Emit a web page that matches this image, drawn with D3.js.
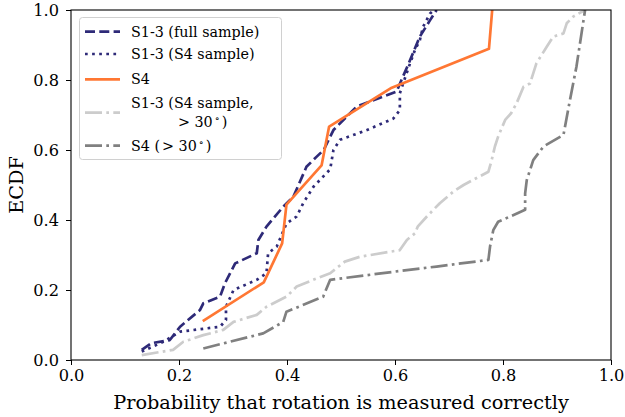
<!DOCTYPE html>
<html><head><meta charset="utf-8">
<script src="https://cdn.jsdelivr.net/npm/d3@7"></script>
<style>body{margin:0;background:#fff}svg{display:block}</style>
</head><body>
<svg id="c" width="625" height="417"></svg>
<script>
const xTicks = [0.0, 0.2, 0.4, 0.6, 0.8, 1.0];
const yTicks = [0.0, 0.2, 0.4, 0.6, 0.8, 1.0];

const fullX = [0.131,0.149,0.183,0.202,0.239,0.245,0.276,0.285,0.304,0.344,0.347,0.362,0.393,0.412,0.436,0.455,0.468,0.486,0.529,0.603,0.612,0.628,0.646,0.665,0.677];
const fullY = [0.029,0.048,0.057,0.095,0.143,0.162,0.181,0.219,0.276,0.305,0.343,0.381,0.438,0.467,0.552,0.581,0.600,0.657,0.724,0.767,0.800,0.857,0.924,0.971,1.000];

const s4sX = [0.131,0.171,0.202,0.276,0.287,0.287,0.301,0.344,0.362,0.365,0.381,0.399,0.418,0.430,0.449,0.480,0.486,0.498,0.548,0.597,0.609,0.609,0.615,0.628,0.637,0.646,0.652,0.665,0.672];
const s4sY = [0.024,0.052,0.081,0.095,0.114,0.152,0.200,0.229,0.248,0.305,0.324,0.390,0.410,0.448,0.495,0.545,0.600,0.629,0.657,0.690,0.714,0.762,0.790,0.848,0.886,0.914,0.952,0.990,1.000];

const s4X = [0.244,0.357,0.391,0.399,0.464,0.478,0.594,0.774,0.780];
const s4Y = [0.111,0.222,0.333,0.444,0.556,0.667,0.778,0.889,1.000];

const s4s30X = [0.131,0.189,0.208,0.245,0.282,0.301,0.344,0.362,0.399,0.418,0.455,0.480,0.507,0.535,0.609,0.622,0.637,0.642,0.659,0.671,0.683,0.708,0.727,0.773,0.779,0.785,0.791,0.804,0.815,0.825,0.838,0.850,0.862,0.881,0.893,0.912,0.918,0.930,0.952];
const s4s30Y = [0.014,0.029,0.052,0.071,0.086,0.109,0.129,0.152,0.181,0.210,0.233,0.248,0.281,0.295,0.314,0.343,0.362,0.381,0.410,0.429,0.448,0.481,0.500,0.538,0.571,0.610,0.638,0.686,0.705,0.733,0.781,0.790,0.848,0.895,0.924,0.933,0.962,0.981,1.000];

const s430X = [0.245,0.356,0.393,0.399,0.467,0.480,0.597,0.677,0.773,0.776,0.782,0.791,0.841,0.841,0.844,0.856,0.875,0.912,0.924,0.936,0.952];
const s430Y = [0.033,0.076,0.109,0.138,0.181,0.229,0.252,0.267,0.286,0.324,0.371,0.395,0.429,0.476,0.514,0.571,0.610,0.643,0.743,0.838,1.000];

const seriesNames = ["S1-3 (full sample)", "S1-3 (S4 sample)", "S4", "S1-3 (S4 sample,", "S4 ("];

const W = 625, H = 417;
const m = {l:71, r:14, t:10, b:57};
const svg = d3.select("#c");
const x = d3.scaleLinear().domain([0,1]).range([m.l, W-m.r]);
const y = d3.scaleLinear().domain([0,1]).range([H-m.b, m.t]);
const FONT = "DejaVu Serif";

const series = [
  {xs: fullX, ys: fullY, color:"#2e2a78", w:2.7, dash:"10,4.3"},
  {xs: s4sX, ys: s4sY, color:"#2e2a78", w:2.7, dash:"2.7,4.4"},
  {xs: s4X, ys: s4Y, color:"#ff7733", w:2.7, dash:null},
  {xs: s4s30X, ys: s4s30Y, color:"#cccccc", w:2.7, dash:"17,4.3,2.7,4.3"},
  {xs: s430X, ys: s430Y, color:"#808080", w:2.7, dash:"17,4.3,2.7,4.3"}
];

svg.append("clipPath").attr("id","pc").append("rect")
  .attr("x", m.l).attr("y", m.t).attr("width", W-m.l-m.r).attr("height", H-m.t-m.b);

const line = d3.line().x(d=>x(d[0])).y(d=>y(d[1]));
const g = svg.append("g").attr("clip-path","url(#pc)");
series.forEach(s => {
  const pts = s.xs.map((v,i)=>[v, s.ys[i]]);
  g.append("path").attr("d", line(pts)).attr("fill","none")
    .attr("stroke", s.color).attr("stroke-width", s.w)
    .attr("stroke-dasharray", s.dash).attr("stroke-linejoin","round");
});

// axes
const xa = svg.append("g").attr("transform",`translate(0,${H-m.b})`)
  .call(d3.axisBottom(x).tickValues(xTicks).tickFormat(d3.format(".1f")).tickSizeOuter(0).tickSize(5).tickPadding(4));
const ya = svg.append("g").attr("transform",`translate(${m.l},0)`)
  .call(d3.axisLeft(y).tickValues(yTicks).tickFormat(d3.format(".1f")).tickSizeOuter(0).tickSize(5).tickPadding(7));
[xa, ya].forEach(a => {
  a.select(".domain").remove();
  a.selectAll("text").attr("font-family", FONT).attr("font-size", 16.2).attr("fill","#000");
  a.selectAll("line").attr("stroke","#000").attr("stroke-width",1);
});
svg.append("rect").attr("x", m.l).attr("y", m.t).attr("width", W-m.l-m.r).attr("height", H-m.t-m.b)
  .attr("fill","none").attr("stroke","#000").attr("stroke-width",1.1);

svg.append("text").attr("x", (m.l + W - m.r)/2).attr("y", 409)
  .attr("text-anchor","middle").attr("font-family",FONT).attr("font-size",19.3)
  .text("Probability that rotation is measured correctly");
svg.append("text").attr("transform",`translate(23,${(m.t+H-m.b)/2}) rotate(-90)`)
  .attr("text-anchor","middle").attr("font-family",FONT).attr("font-size",19.3)
  .text("ECDF");

// legend
const lg = svg.append("g");
lg.append("rect").attr("x",79.5).attr("y",17.5).attr("width",202).attr("height",142).attr("rx",3)
  .attr("fill","#fff").attr("fill-opacity",0.8).attr("stroke","#d0d0d0").attr("stroke-width",1);
const rows = [31.7, 54, 79.3, 112.7, 145.7];
series.forEach((s,i) => {
  lg.append("line").attr("x1",85).attr("x2",120).attr("y1",rows[i]).attr("y2",rows[i])
    .attr("stroke", s.color).attr("stroke-width", s.w).attr("stroke-dasharray", s.dash);
});
const fs = 14.3;
function lt(yy, txt){ return lg.append("text").attr("x",131).attr("y",yy).attr("dy","0.35em")
  .attr("font-family",FONT).attr("font-size",fs).text(txt); }
lt(rows[0], seriesNames[0]);
lt(rows[1], seriesNames[1]);
lt(rows[2], seriesNames[2]);
lt(103.3, seriesNames[3]);
const t4 = lg.append("text").attr("x",178).attr("y",121.7).attr("dy","0.35em")
  .attr("font-family",FONT).attr("font-size",fs);
t4.append("tspan").text("> 30");
t4.append("tspan").attr("dy","-5").attr("font-size",10).attr("dx","2").text("∘");
t4.append("tspan").attr("dy","5").attr("dx","2").text(")");
const t5 = lg.append("text").attr("x",131).attr("y",rows[4]).attr("dy","0.35em")
  .attr("font-family",FONT).attr("font-size",fs);
t5.append("tspan").text(seriesNames[4]);
t5.append("tspan").attr("dx","2").text("> 30");
t5.append("tspan").attr("dy","-5").attr("font-size",10).attr("dx","2").text("∘");
t5.append("tspan").attr("dy","5").attr("dx","2").text(")");
</script>
</body></html>
